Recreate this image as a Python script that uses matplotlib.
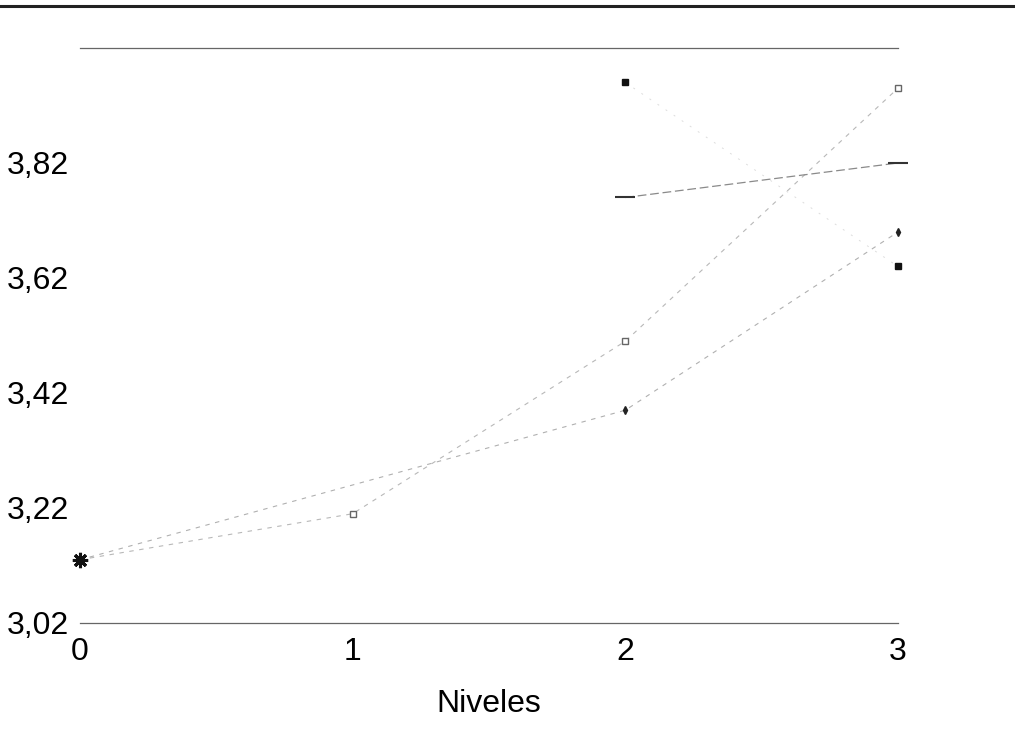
import matplotlib.pyplot as plt
from matplotlib.lines import Line2D

plt.rcParams['font.family'] = ['Liberation Sans', 'DejaVu Sans']

niveles = [0, 1, 2, 3]
serie_a = [3.13, 3.21, 3.51, 3.95]      # cuadrado abierto
niv_b = [0, 2, 3]
serie_b = [3.13, 3.39, 3.70]
niv_c = [2, 3]
serie_c = [3.96, 3.64]                  # cuadrado lleno
niv_d = [2, 3]
serie_d = [3.76, 3.82]

yticks = [3.02, 3.22, 3.42, 3.62, 3.82]
ytick_labels = ['3,02', '3,22', '3,42', '3,62', '3,82']

fig = plt.figure(figsize=(10.15, 7.37), dpi=100)
ax = fig.add_axes([0.0788, 0.1547, 0.8059, 0.7802])

ax.plot(niveles, serie_a, color='#b8b8b8', lw=0.8, ls=(0, (4, 5)),
        marker='s', ms=5, mfc='white', mec='#666666', mew=1.0, clip_on=False)
ax.plot(niv_b, serie_b, color='#b0b0b0', lw=0.8, ls=(0, (4, 5)),
        marker='d', ms=4, mfc='#222222', mec='#222222', clip_on=False)
ax.plot(niv_c, serie_c, color='#dddddd', lw=0.7, ls=(0, (2, 8)),
        marker='s', ms=4.5, mfc='#111111', mec='#111111', clip_on=False)
ax.plot(niv_d, serie_d, color='#8a8a8a', lw=0.9, ls=(0, (7, 3)),
        marker='_', ms=14, mec='#333333', mew=1.5, clip_on=False)
# punto inicial compartido
ax.plot(niveles[0], serie_a[0], marker=(8, 2, 0), ms=11, mec='#111111', mew=2.2,
        clip_on=False)

ax.set_xlim(0, 3)
ax.set_ylim(3.02, 4.02)
ax.set_xticks(niveles)
ax.set_xticklabels([str(n) for n in niveles])
ax.set_yticks(yticks)
ax.set_yticklabels(ytick_labels)
ax.tick_params(length=0, labelsize=23)
ax.tick_params(axis='y', pad=8)
ax.tick_params(axis='x', pad=10)
ax.set_xlabel('Niveles', fontsize=23, labelpad=16)

for s in ['left', 'right']:
    ax.spines[s].set_visible(False)
for s in ['top', 'bottom']:
    ax.spines[s].set_color('#666666')
    ax.spines[s].set_linewidth(0.9)

fig.add_artist(Line2D([0, 1], [0.992, 0.992], color='#222222', lw=2.2))

plt.savefig('out.png', dpi=100)
